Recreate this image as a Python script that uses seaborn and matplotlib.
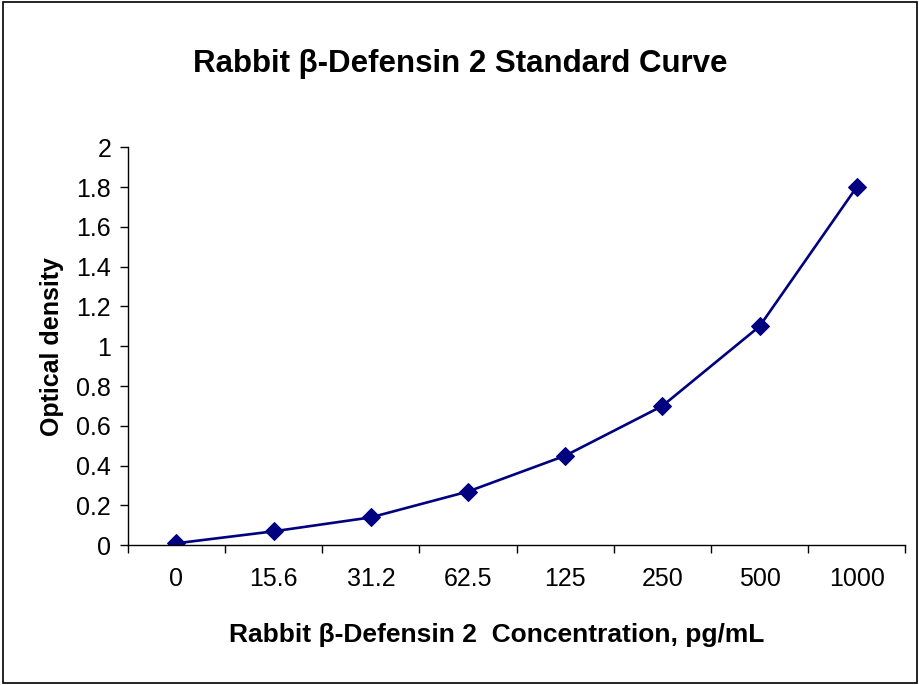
import matplotlib
matplotlib.use("Agg")
import matplotlib.pyplot as plt
import matplotlib.patches as patches
from matplotlib.ticker import MultipleLocator, FixedLocator
import seaborn as sns
import pandas as pd

# standard curve data
concentrations = ["0", "15.6", "31.2", "62.5", "125", "250", "500", "1000"]
optical_density = [0.01, 0.07, 0.14, 0.27, 0.45, 0.70, 1.10, 1.80]

sns.set_style("white")
plt.rcParams['font.family'] = ['Liberation Sans', 'DejaVu Sans']
plt.rcParams['text.color'] = 'black'
plt.rcParams['xtick.color'] = 'black'
plt.rcParams['ytick.color'] = 'black'
plt.rcParams['axes.labelcolor'] = 'black'

df = pd.DataFrame({"conc": concentrations, "od": optical_density})

fig = plt.figure(figsize=(9.2, 6.85), dpi=100)
ax = fig.add_axes([0.139, 0.204, 0.845, 0.581])

sns.lineplot(data=df, x="conc", y="od", marker="D", markersize=9.5,
             color="#000080", linewidth=1.9, markeredgecolor="#000080", ax=ax)

ax.set_ylim(0, 2)
ax.set_xlim(-0.5, len(concentrations) - 0.5)
ax.yaxis.set_major_locator(MultipleLocator(0.2))
ax.set_yticklabels([f"{v:g}" for v in ax.get_yticks()])

# ticks between categories, like excel
ax.xaxis.set_minor_locator(FixedLocator([i - 0.5 for i in range(len(concentrations) + 1)]))
ax.tick_params(axis="x", which="major", length=0, pad=16, labelsize=18)
ax.tick_params(axis="x", which="minor", length=6, width=1, direction="out", bottom=True)
ax.tick_params(axis="y", length=6, width=1, direction="out", left=True, labelsize=18, pad=6)

for s in ["top", "right"]:
    ax.spines[s].set_visible(False)
for s in ["left", "bottom"]:
    ax.spines[s].set_color("black")
    ax.spines[s].set_linewidth(1)

ax.set_xlabel("")
ax.set_ylabel("Optical density", fontsize=18, fontweight="bold", labelpad=9)
fig.text(0.54, 1 - 635 / 685, "Rabbit β-Defensin 2  Concentration, pg/mL", fontsize=19,
         fontweight="bold", ha="center", va="center")
fig.text(0.5, 0.907, "Rabbit β-Defensin 2 Standard Curve", fontsize=22.5, fontweight="bold",
         ha="center", va="center")

# outer frame
fig.patches.append(patches.Rectangle((0.003, 0.003), 0.994, 0.994, transform=fig.transFigure,
                                     fill=False, edgecolor="black", linewidth=1.2))

fig.savefig("out.png", dpi=100)
